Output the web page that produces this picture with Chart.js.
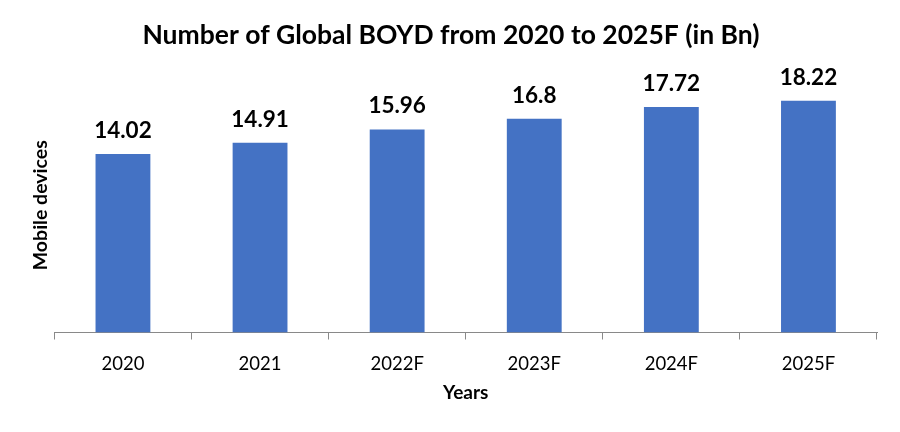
<!DOCTYPE html>
<html>
<head>
<meta charset="utf-8">
<script src="https://cdn.jsdelivr.net/npm/chart.js@4.4.0/dist/chart.umd.min.js"></script>
<style>
  html, body { margin: 0; padding: 0; background: #fff; }
  #wrap { width: 900px; height: 432px; }
</style>
</head>
<body>
<div id="wrap"><canvas id="grafico" width="900" height="432"></canvas></div>
<script>
const anos = ['2020', '2021', '2022F', '2023F', '2024F', '2025F'];
const dispositivos = [14.02, 14.91, 15.96, 16.8, 17.72, 18.22];
const rotulos = ['14.02', '14.91', '15.96', '16.8', '17.72', '18.22'];

const fonte = 'Lato, "Open Sans", sans-serif';

// rótulos de valor em cima das barras
const rotuloBarras = {
  id: 'rotuloBarras',
  afterDatasetsDraw(chart) {
    const ctx = chart.ctx;
    const meta = chart.getDatasetMeta(0);
    ctx.save();
    ctx.font = 'bold 22.5px ' + fonte;
    ctx.fillStyle = '#000';
    ctx.textAlign = 'center';
    ctx.textBaseline = 'alphabetic';
    meta.data.forEach((bar, i) => {
      ctx.fillText(rotulos[i], bar.x, bar.y - 16);
    });
    ctx.restore();
  }
};

new Chart(document.getElementById('grafico'), {
  type: 'bar',
  data: {
    labels: anos,
    datasets: [{
      label: 'Mobile devices',
      data: dispositivos,
      backgroundColor: '#4472C4',
      borderWidth: 0,
      barPercentage: 0.5,
      categoryPercentage: 0.8
    }]
  },
  options: {
    responsive: false,
    animation: false,
    layout: { padding: { left: 25, right: 23, top: 0, bottom: 23.5 } },
    plugins: {
      legend: { display: false },
      tooltip: { enabled: false },
      title: {
        display: true,
        text: 'Number of Global BOYD from 2020 to 2025F (in Bn)',
        color: '#000',
        font: { family: fonte, size: 26.5, weight: 'bold' },
        padding: { top: 19.6, bottom: 26.6 }
      }
    },
    scales: {
      x: {
        grid: {
          display: true,
          drawOnChartArea: false,
          drawTicks: true,
          tickLength: 7,
          color: '#898989'
        },
        border: { display: true, color: '#898989', width: 1 },
        ticks: {
          color: '#000',
          padding: 13,
          font: { family: fonte, size: 18.5 }
        },
        title: {
          display: true,
          text: 'Years',
          color: '#000',
          font: { family: fonte, size: 19, weight: 'bold' },
          padding: { top: -6, bottom: 4 }
        }
      },
      y: {
        min: 0,
        max: 20,
        grid: { display: false, drawTicks: false },
        border: { display: false },
        ticks: { display: false },
        title: {
          display: true,
          text: 'Mobile devices',
          color: '#000',
          font: { family: fonte, size: 19.5, weight: 'bold' },
          padding: { top: 4, bottom: 2 }
        }
      }
    }
  },
  plugins: [rotuloBarras]
});
</script>
</body>
</html>
